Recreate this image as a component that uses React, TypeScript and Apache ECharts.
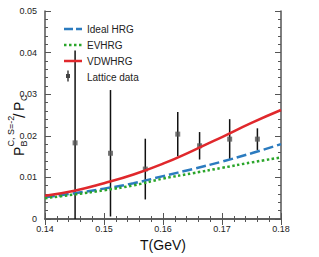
import React, { useEffect, useRef } from "react";
import * as echarts from "echarts";

const curveT = [0.14, 0.145, 0.15, 0.155, 0.16, 0.165, 0.17, 0.175, 0.18];
const idealHRG = [0.0052, 0.0062, 0.0073, 0.0086, 0.0103, 0.012, 0.0138, 0.0158, 0.018];
const evHRG = [0.005, 0.0059, 0.0069, 0.0081, 0.0097, 0.011, 0.0123, 0.0136, 0.0148];
const vdwHRG = [0.0056, 0.0068, 0.0086, 0.0107, 0.0133, 0.0164, 0.0197, 0.0231, 0.0262];

const latticeT = [0.1451, 0.1511, 0.157, 0.1625, 0.1662, 0.1713, 0.176];
const latticeVal = [0.0183, 0.0158, 0.012, 0.0204, 0.0176, 0.0192, 0.0192];
const latticeErr = [0.0222, 0.0152, 0.0073, 0.0053, 0.0033, 0.0048, 0.0026];

const FONT = "'Liberation Sans', Arial, sans-serif";
const AX = "#555";

// legend icons drawn in an 18x12 box (tiny corner squares fix the box)
const BOX = "M0,0H0.01V0.01H0Z M17.99,11.99H18V12H17.99Z ";
const iconSolid = "path://" + BOX + "M0,4.75H18V7.25H0Z";
const iconDashed = "path://" + BOX + "M0,4.75H9V7.25H0Z M12,4.75H18V7.25H12Z";
const iconDotted =
  "path://" + BOX + "M0,4.75H2.5V7.25H0Z M5,4.75H7.5V7.25H5Z M10,4.75H12.5V7.25H10Z M15,4.75H17.5V7.25H15Z";

export default function App() {
  const ref = useRef<HTMLDivElement>(null);
  useEffect(() => {
    if (!ref.current) return;
    const chart = echarts.init(ref.current, undefined, { renderer: "svg" });
    const zip = (ys: number[]) => curveT.map((t, i) => [t, ys[i]]);
    const axisCommon = {
      type: "value" as const,
      axisLine: { show: true, lineStyle: { color: AX, width: 1.5 } },
      axisTick: { show: true, inside: true, length: 6, lineStyle: { color: AX, width: 1 } },
      minorTick: { show: true, splitNumber: 5, length: 3, lineStyle: { color: AX, width: 1 } },
      splitLine: { show: false },
    };
    const lbl = { fontSize: 14, fontFamily: FONT, fill: "#111", textVerticalAlign: "middle" };
    const small = { fontSize: 9, fontFamily: FONT, fill: "#111", textVerticalAlign: "middle" };
    chart.setOption({
      animation: false,
      textStyle: { fontFamily: FONT },
      grid: { left: 45, right: 38, top: 11, bottom: 38 },
      legend: {
        orient: "vertical",
        left: 59,
        top: 18,
        itemWidth: 18,
        itemHeight: 12,
        itemGap: 4,
        textStyle: { fontSize: 10, color: "#222", fontFamily: FONT },
        data: [
          { name: "Ideal HRG", icon: iconDashed },
          { name: "EVHRG", icon: iconDotted },
          { name: "VDWHRG", icon: iconSolid },
          { name: "Lattice data", icon: "path://" + BOX },
        ],
      },
      xAxis: [
        {
          ...axisCommon,
          min: 0.14,
          max: 0.18,
          interval: 0.01,
          position: "bottom",
          name: "T(GeV)",
          nameLocation: "middle",
          nameGap: 16,
          nameTextStyle: { fontSize: 14, color: "#111", fontFamily: FONT },
          axisLabel: { fontSize: 9, color: "#222", margin: 5, fontFamily: FONT },
        },
        {
          ...axisCommon,
          min: 0.14,
          max: 0.18,
          interval: 0.01,
          position: "top",
          axisLabel: { show: false },
        },
      ],
      yAxis: [
        {
          ...axisCommon,
          min: 0,
          max: 0.05,
          interval: 0.01,
          position: "left",
          axisLabel: { fontSize: 9, color: "#222", margin: 8, fontFamily: FONT },
        },
        {
          ...axisCommon,
          min: 0,
          max: 0.05,
          interval: 0.01,
          position: "right",
          axisLabel: { show: false },
        },
      ],
      graphic: [
        {
          type: "group",
          x: 19,
          y: 156,
          rotation: Math.PI / 2,
          children: [
            { type: "text", x: 0, y: 0, style: { ...lbl, text: "P" } },
            { type: "text", x: 9.5, y: -8, style: { ...small, text: "C, S=-2" } },
            { type: "text", x: 9.5, y: 5, style: { ...small, text: "B" } },
            { type: "text", x: 38, y: 0, style: { ...lbl, fontSize: 16, text: "/" } },
            { type: "text", x: 45, y: 0, style: { ...lbl, text: "P" } },
            { type: "text", x: 55, y: 5, style: { ...small, text: "C" } },
          ],
        },
        {
          type: "group",
          z: 100,
          children: [
            { type: "line", shape: { x1: 68, y1: 70.5, x2: 68, y2: 81.5 }, style: { stroke: "#111", lineWidth: 1.2 } },
            { type: "rect", shape: { x: 66, y: 74, width: 4, height: 4 }, style: { fill: "#444" } },
          ],
        },
      ],
      series: [
        {
          name: "Ideal HRG",
          type: "line",
          data: zip(idealHRG),
          smooth: true,
          symbol: "none",
          color: "#2b7bbf",
          lineStyle: { width: 2.5, type: [10, 4], color: "#2b7bbf" },
        },
        {
          name: "EVHRG",
          type: "line",
          data: zip(evHRG),
          smooth: true,
          symbol: "none",
          color: "#2aa52a",
          lineStyle: { width: 2.5, type: [2.5, 2.5], color: "#2aa52a" },
        },
        {
          name: "VDWHRG",
          type: "line",
          data: zip(vdwHRG),
          smooth: true,
          symbol: "none",
          color: "#e0282c",
          lineStyle: { width: 2.5, type: "solid", color: "#e0282c" },
        },
        {
          name: "Lattice errors",
          type: "custom",
          clip: true,
          data: latticeT.map((t, i) => [t, latticeVal[i] - latticeErr[i], latticeVal[i] + latticeErr[i]]),
          renderItem: (_params: any, api: any) => {
            const lo = api.coord([api.value(0), api.value(1)]);
            const hi = api.coord([api.value(0), api.value(2)]);
            return {
              type: "line",
              shape: { x1: lo[0], y1: lo[1], x2: hi[0], y2: hi[1] },
              style: { stroke: "#111", lineWidth: 1.5 },
            };
          },
        },
        {
          name: "Lattice data",
          type: "scatter",
          symbol: "rect",
          symbolSize: 5,
          data: latticeT.map((t, i) => [t, latticeVal[i]]),
          itemStyle: { color: "#555" },
          color: "#333",
        },
      ],
    });
    return () => chart.dispose();
  }, []);
  return <div ref={ref} style={{ width: 319, height: 257, position: "absolute", left: 0, top: 0 }} />;
}
